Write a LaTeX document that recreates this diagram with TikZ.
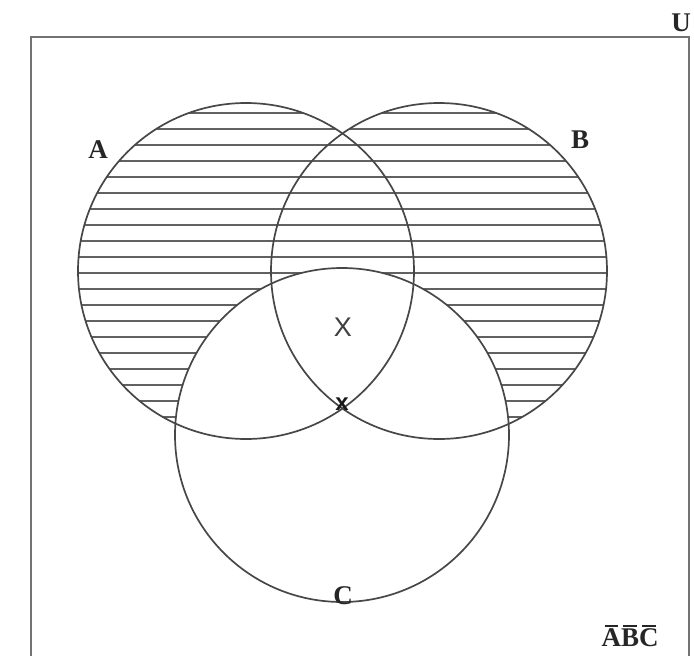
\documentclass[tikz,border=0pt]{standalone}
\usepackage{fontspec}
\setmainfont{Liberation Serif}
\newfontfamily\xsans{Liberation Sans}
\newcommand\olet[1]{\ooalign{#1\cr\hidewidth\rule[0.74em]{0.5em}{0.06em}\hidewidth\cr}}
\begin{document}
\begin{tikzpicture}[x=1pt,y=-1pt,
  ring/.style={circle, draw=black!72, line width=1.7pt, inner sep=0pt, minimum size=#1},
  hatch/.style={draw=black!62, line width=1.6pt},
  lab/.style={font=\fontsize{27}{27}\selectfont\bfseries, text=black!85, inner sep=0pt}]
\useasboundingbox (0,0) rectangle (694,656);
\clip (0,0) rectangle (694,656);
\fill[white] (0,0) rectangle (694,656);
\draw[black!55, line width=1.8pt] (31,37) rectangle (689,690);
% hatching in A and B
\begin{scope}
  \clip (246,271) circle[radius=168pt];
  \foreach \y in {113,129,...,440} \draw[hatch] (60,\y) -- (440,\y);
\end{scope}
\begin{scope}
  \clip (439,271) circle[radius=168pt];
  \foreach \y in {113,129,...,440} \draw[hatch] (250,\y) -- (630,\y);
\end{scope}
% C is not hatched
\fill[white] (342,435) circle[radius=167pt];
% circles
\node[ring=336pt] (A) at (246,271) {};
\node[ring=336pt] (B) at (439,271) {};
\node[ring=334pt] (C) at (342,435) {};
% labels
\node[lab] (la) at (98,150) {A};
\node[lab] (lb) at (580,140) {B};
\node[lab] (lc) at (343,596) {C};
\node[lab] (lu) at (681,23) {U};
\node[lab] (lnot) at (630,638) {\olet{A}\olet{B}\olet{C}};
\node[font=\xsans\fontsize{27}{27}\selectfont, text=black!75, inner sep=0pt] (x1) at (343,327) {X};
\node[font=\xsans\bfseries\fontsize{24}{24}\selectfont, text=black!90, inner sep=0pt] (x2) at (342,404) {x};
\end{tikzpicture}
\end{document}
